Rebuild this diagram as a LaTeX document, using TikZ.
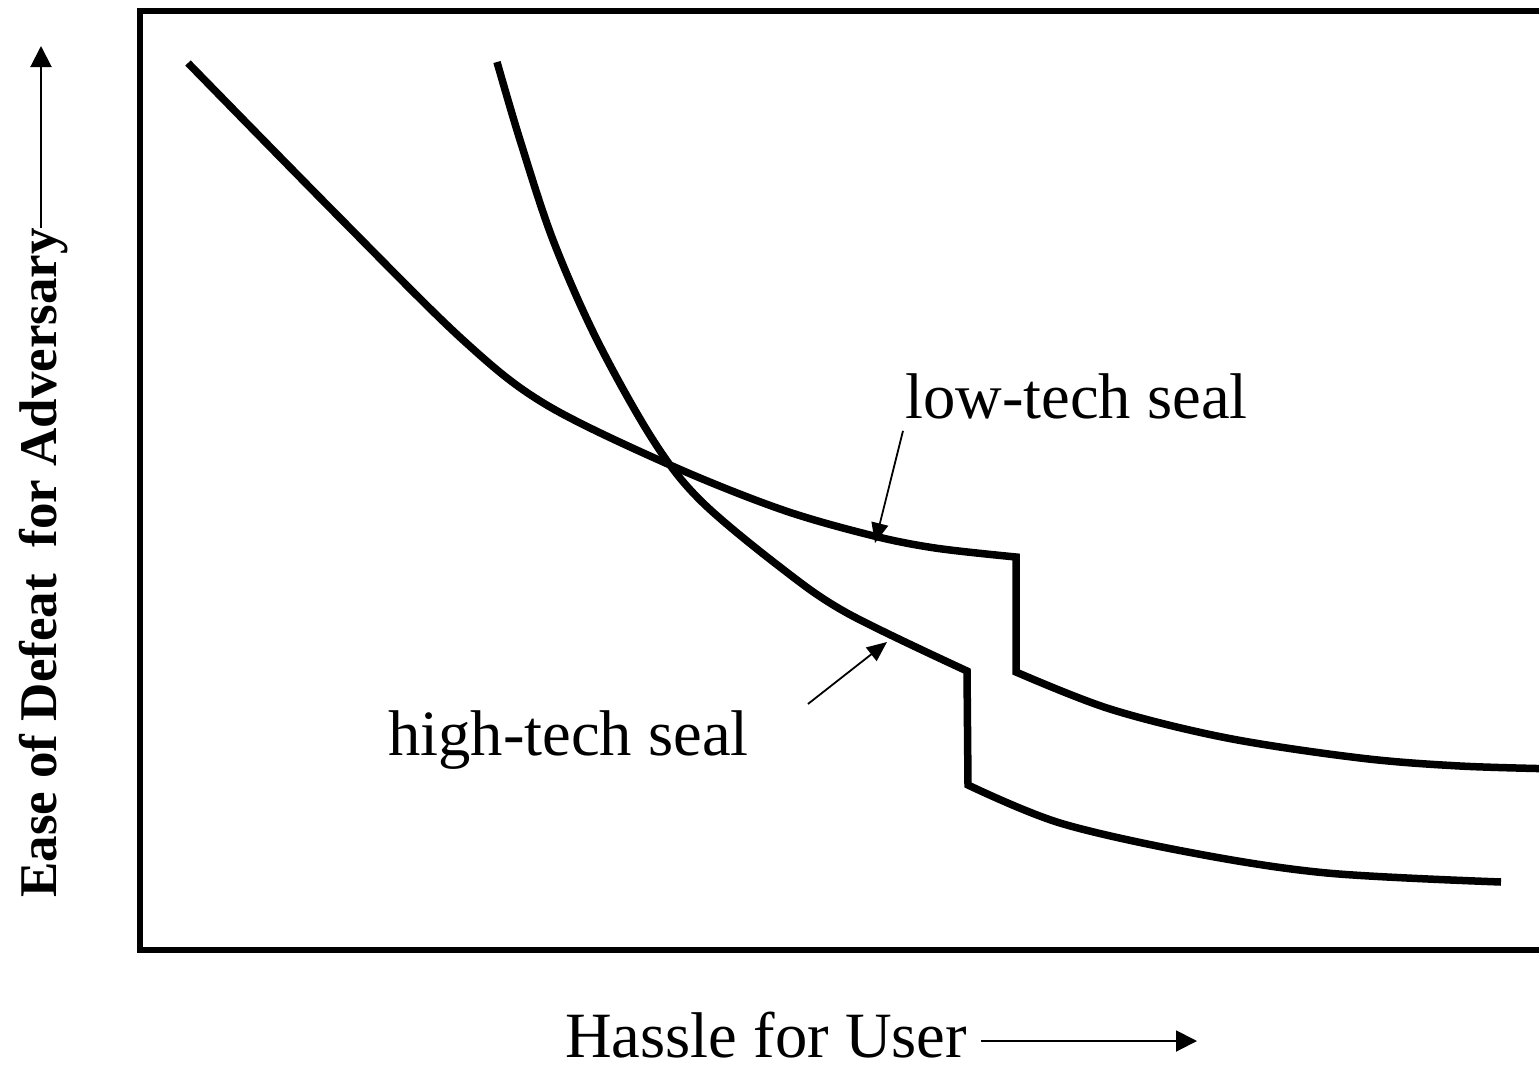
\documentclass[tikz,border=0pt]{standalone}
\usepackage{fontspec}
\setmainfont{Liberation Serif}
\usetikzlibrary{arrows.meta}
\begin{document}
\begin{tikzpicture}[x=1pt,y=-1pt,
  curve/.style={line width=7.5pt},
  frame/.style={line width=6pt},
  pointer/.style={line width=1.8pt,-{Triangle[length=20pt,width=17pt]}},
  axisarrow/.style={line width=2pt,-{Triangle[length=21pt,width=21pt]}},
  lbl/.style={font=\fontsize{64.6}{70}\selectfont, inner sep=0pt, anchor=base west},
  ylbl/.style={font=\bfseries\fontsize{53}{60}\selectfont, inner sep=0pt, anchor=base west, rotate=90}]
\useasboundingbox (0,0) rectangle (1539,1068);
\clip (0,0) rectangle (1539,1068);

% plot frame, running off the right edge
\draw[frame] (1560,11) -- (140,11) -- (140,950) -- (1560,950);

% low-tech seal curve
\draw[curve] plot[smooth, tension=0.55] coordinates {
  (188,63) (340,218) (463,340) (545,404) (670,465) (780,509) (870,535)
  (935,548) (1016,557)}
  -- plot[smooth, tension=0.55] coordinates {
  (1016,672) (1110,709) (1227,738) (1360,758) (1460,766) (1560,769)};

% high-tech seal curve
\draw[curve] plot[smooth, tension=0.55] coordinates {
  (497,62) (520,140) (553,240) (597,340) (653,440) (700,500) (780,567)
  (847,613) (967,671)}
  -- plot[smooth, tension=0.55] coordinates {
  (968,785) (1060,823) (1193,853) (1327,873) (1501,882)};

% curve labels with pointers
\node[lbl] (low) at (905,418) {low-tech seal};
\coordinate (lowtip) at (875,543);
\draw[pointer] ([shift={(-2,12)}]low.south west) -- (lowtip);

\node[lbl] (high) at (388,755) {high-tech seal};
\coordinate (hightip) at (887,642);
\draw[pointer] ([shift={(59,-6)}]high.north east) -- (hightip);

% axis labels
\node[ylbl] (ylab) at (56,898) {Ease of Defeat\ \ for Adversary};
\coordinate (ytip) at (41,46);
\draw[axisarrow] ([shift={(-15,0)}]ylab.base east) -- (ytip);

\node[lbl] (xlab) at (565,1057) {Hassle for User};
\coordinate (xtip) at (1197,1041);
\draw[axisarrow] ([shift={(14,-16)}]xlab.base east) -- (xtip);
\end{tikzpicture}
\end{document}
